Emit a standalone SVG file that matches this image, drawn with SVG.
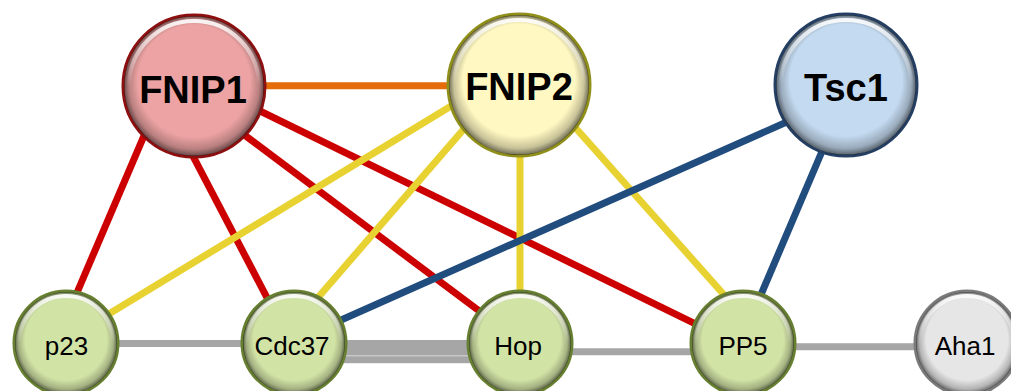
<svg xmlns="http://www.w3.org/2000/svg" width="1011" height="391" viewBox="0 0 1011 391">
<defs>
<radialGradient id="shade" cx="0.5" cy="0.5" r="0.5" fx="0.5" fy="0.32">
<stop offset="0.8" stop-color="#000" stop-opacity="0"/>
<stop offset="0.93" stop-color="#000" stop-opacity="0.22"/>
<stop offset="1" stop-color="#000" stop-opacity="0.55"/>
</radialGradient>
<linearGradient id="hl" x1="0" y1="0" x2="0" y2="1">
<stop offset="0" stop-color="#fff" stop-opacity="0.9"/>
<stop offset="0.35" stop-color="#fff" stop-opacity="0.3"/>
<stop offset="0.5" stop-color="#fff" stop-opacity="0"/>
</linearGradient>
<style>
.e{fill:none;stroke-width:7;stroke-linecap:butt}
.red{stroke:#CC0000}
.yel{stroke:#E8D232}
.blu{stroke:#214C7E}
.ora{stroke:#E46C0A}
.gry{stroke:#A6A6A6}
.shade{fill:url(#shade)}
.hl{fill:none;stroke:url(#hl);stroke-width:4}
.big{font-family:"Liberation Sans",Arial,sans-serif;font-weight:bold;font-size:38px;text-anchor:middle;fill:#000}
.sm{font-family:"Liberation Sans",Arial,sans-serif;font-size:26px;text-anchor:middle;fill:#000}
.n1{fill:#EDA3A3;stroke:#8E0F0F;stroke-width:3}
.n2{fill:#FFF8C2;stroke:#8F8F1A;stroke-width:3}
.n3{fill:#C4DAF0;stroke:#243F63;stroke-width:3}
.ng{fill:#D2E3A6;stroke:#667F30;stroke-width:3}
.nw{fill:#E6E6E6;stroke:#7A7A7A;stroke-width:3}
</style>
</defs>
<g id="connectors">
<line class="e ora" x1="262" y1="85.7" x2="452" y2="85.7"/>
<line class="e gry" x1="110" y1="343.6" x2="250" y2="343.6"/>
<rect x="340" y="340" width="135" height="15" fill="#A6A6A6"/>
<rect x="340" y="355" width="135" height="1.2" fill="#C8C8C8"/>
<rect x="340" y="356.2" width="135" height="7" fill="#A6A6A6"/>
<line class="e gry" x1="565" y1="351.7" x2="700" y2="351.7"/>
<line class="e gry" x1="790" y1="346.7" x2="920" y2="346.7"/>
<line class="e red" x1="146.7" y1="129.3" x2="74.3" y2="299"/>
<line class="e red" x1="189.6" y1="149.6" x2="270.2" y2="303.8"/>
<line class="e red" x1="240.2" y1="131.9" x2="484.3" y2="314.8"/>
<line class="e red" x1="254.3" y1="108.2" x2="701.5" y2="326.8"/>
<line class="e yel" x1="459.8" y1="100.8" x2="103" y2="317.5"/>
<line class="e yel" x1="468.2" y1="124" x2="313.5" y2="302.7"/>
<line class="e yel" x1="520" y1="150" x2="520" y2="298"/>
<line class="e yel" x1="572.1" y1="124" x2="729.5" y2="301"/>
<line class="e blu" x1="791.2" y1="120" x2="333.8" y2="323.2"/>
<line class="e blu" x1="824.3" y1="146" x2="758.4" y2="300.7"/>
</g>
<g id="FNIP1">
<circle class="n1" cx="194" cy="86" r="71"/>
<circle class="shade" cx="194" cy="86" r="70"/>
<circle class="hl" cx="194" cy="86" r="65"/>
<text class="big" x="193" y="103">FNIP1</text>
</g>
<g id="FNIP2">
<circle class="n2" cx="519" cy="85" r="71"/>
<circle class="shade" cx="519" cy="85" r="70"/>
<circle class="hl" cx="519" cy="85" r="65"/>
<text class="big" x="519" y="100">FNIP2</text>
</g>
<g id="Tsc1">
<circle class="n3" cx="846" cy="85" r="71"/>
<circle class="shade" cx="846" cy="85" r="70"/>
<circle class="hl" cx="846" cy="85" r="65"/>
<text class="big" x="846" y="101">Tsc1</text>
</g>
<g id="p23">
<circle class="ng" cx="66" cy="343" r="52"/>
<circle class="shade" cx="66" cy="343" r="51"/>
<circle class="hl" cx="66" cy="343" r="47"/>
<text class="sm" x="66.5" y="355">p23</text>
</g>
<g id="Cdc37">
<circle class="ng" cx="294" cy="343" r="52"/>
<circle class="shade" cx="294" cy="343" r="51"/>
<circle class="hl" cx="294" cy="343" r="47"/>
<text class="sm" x="292" y="355">Cdc37</text>
</g>
<g id="Hop">
<circle class="ng" cx="520" cy="343" r="52"/>
<circle class="shade" cx="520" cy="343" r="51"/>
<circle class="hl" cx="520" cy="343" r="47"/>
<text class="sm" x="518" y="355">Hop</text>
</g>
<g id="PP5">
<circle class="ng" cx="743" cy="343" r="52"/>
<circle class="shade" cx="743" cy="343" r="51"/>
<circle class="hl" cx="743" cy="343" r="47"/>
<text class="sm" x="743" y="355">PP5</text>
</g>
<g id="Aha1">
<circle class="nw" cx="967" cy="343" r="52"/>
<circle class="shade" cx="967" cy="343" r="51"/>
<circle class="hl" cx="967" cy="343" r="47"/>
<text class="sm" x="965" y="355">Aha1</text>
</g>
</svg>
